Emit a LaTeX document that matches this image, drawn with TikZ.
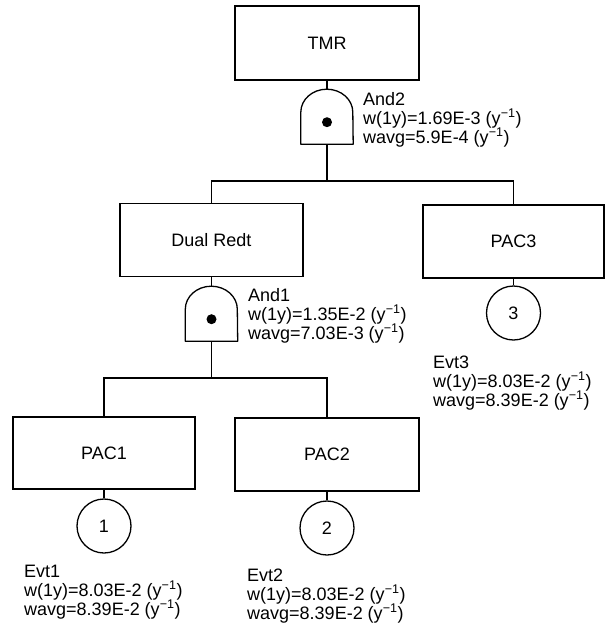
\documentclass[tikz,border=0pt]{standalone}
\usepackage{fontspec}
\setmainfont{Liberation Sans}
\newcommand\yinv{(y\textsuperscript{−1})}
\tikzset{
  evbox/.style={draw, line width=1.3pt, minimum width=183pt, minimum height=73pt, inner sep=0pt, font=\fontsize{18}{19}\selectfont},
  basic/.style={draw, circle, line width=1.3pt, minimum size=54pt, inner sep=0pt, font=\fontsize{18}{19}\selectfont},
  gatebox/.style={minimum width=52pt, minimum height=55pt, inner sep=0pt},
  lbl/.style={anchor=base west, inner sep=0pt, font=\fontsize{18}{19}\selectfont},
  wire/.style={line width=1.3pt},
  gateline/.style={line width=1.3pt, line join=round}
}
\newcommand\andgate[1]{%
  \draw[gateline] (#1.south west) -- ([yshift=32pt]#1.south west)
    arc[start angle=180, end angle=0, x radius=26pt, y radius=23pt]
    -- (#1.south east) -- cycle;
  \fill ([yshift=22pt]#1.south) circle (5pt);
}
\begin{document}
\begin{tikzpicture}[x=1pt,y=-1pt]
\useasboundingbox (0,0) rectangle (605,632);
% event boxes
\node[evbox, minimum width=184pt, minimum height=74pt] (tmr) at (327,43) {TMR};
\node[evbox] (dual) at (211.5,240) {Dual Redt};
\node[evbox, minimum width=181pt] (pac3) at (513.5,241.5) {PAC3};
\node[evbox, minimum width=182pt, minimum height=72pt] (pac1) at (104,453) {PAC1};
\node[evbox, minimum width=184pt] (pac2) at (327,454.5) {PAC2};
% basic events
\node[basic] (c1) at (104,526) {1};
\node[basic] (c2) at (327,528) {2};
\node[basic] (c3) at (513.5,313) {3};
% gates
\node[gatebox] (and2) at (327,116.5) {};
\node[gatebox] (and1) at (211.5,313.5) {};
\andgate{and2}
\andgate{and1}
% bars
\coordinate (b2) at (327,181);
\coordinate (b1) at (211.5,378);
% connectors
\draw[wire] (tmr.south) -- (and2.north);
\draw[wire] (and2.south) -- (b2);
\draw[wire] (dual.north) |- (b2) -| (pac3.north);
\draw[wire] (dual.south) -- (and1.north);
\draw[wire] (and1.south) -- (b1);
\draw[wire] (pac1.north) |- (b1) -| (pac2.north);
\draw[wire] (pac1.south) -- (c1.north);
\draw[wire] (pac2.south) -- (c2.north);
\draw[wire] (pac3.south) -- (c3.north);
% labels
\node[lbl] (a2l1) at (363,105) {And2};
\node[lbl] (a2l2) at (363,124) {w(1y)=1.69E-3 \yinv};
\node[lbl] (a2l3) at (363,143) {wavg=5.9E-4 \yinv};
\node[lbl] (a1l1) at (248,301) {And1};
\node[lbl] (a1l2) at (248,320) {w(1y)=1.35E-2 \yinv};
\node[lbl] (a1l3) at (248,339) {wavg=7.03E-3 \yinv};
\node[lbl] (e3l1) at (433,368) {Evt3};
\node[lbl] (e3l2) at (433,387) {w(1y)=8.03E-2 \yinv};
\node[lbl] (e3l3) at (433,406) {wavg=8.39E-2 \yinv};
\node[lbl] (e1l1) at (24,577) {Evt1};
\node[lbl] (e1l2) at (24,596) {w(1y)=8.03E-2 \yinv};
\node[lbl] (e1l3) at (24,615) {wavg=8.39E-2 \yinv};
\node[lbl] (e2l1) at (247,581) {Evt2};
\node[lbl] (e2l2) at (247,600) {w(1y)=8.03E-2 \yinv};
\node[lbl] (e2l3) at (247,619) {wavg=8.39E-2 \yinv};
\end{tikzpicture}
\end{document}
